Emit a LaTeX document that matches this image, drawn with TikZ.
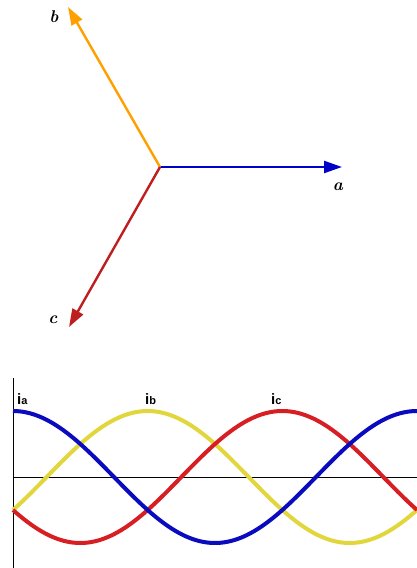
\documentclass[tikz,border=0pt]{standalone}
\usepackage{fontspec}
\setsansfont{Liberation Sans}
\usetikzlibrary{arrows.meta}
\definecolor{phA}{RGB}{0,0,200}
\definecolor{phB}{RGB}{255,160,0}
\definecolor{phC}{RGB}{190,30,30}
\definecolor{wA}{RGB}{10,10,190}
\definecolor{wB}{RGB}{225,215,60}
\definecolor{wC}{RGB}{215,30,35}
\begin{document}
\begin{tikzpicture}[x=1pt,y=-1pt,
  phasor/.style={line width=2.4pt,-{Triangle[length=18pt,width=12pt]}},
  plab/.style={font=\bfseries\itshape\fontsize{17}{17}\selectfont},
  wave/.style={line width=4pt,domain=13:417,samples=120,smooth},
  ilab/.style={font=\sffamily\bfseries\fontsize{15}{15}\selectfont, anchor=base west, inner sep=0pt}]
\useasboundingbox (0,0) rectangle (417,568);
% phasors
\coordinate (O) at (160,167);
\coordinate (A) at (342,167);
\coordinate (B) at (68,7);
\coordinate (C) at (69,327);
\draw[phasor,phA] (O) -- (A);
\draw[phasor,phB] (O) -- (B);
\draw[phasor,phC] (O) -- (C);
\node[plab] (la) at (338,187) {a};
\node[plab] (lb) at (54,17) {b};
\node[plab] (lc) at (53,320) {c};
% waveforms
\coordinate (Y0) at (13,378);
\coordinate (Y1) at (13,568);
\coordinate (X0) at (13,477);
\coordinate (X1) at (417,477);
\draw[line width=1pt] (Y0) -- (Y1);
\draw[line width=1pt] (X0) -- (X1);
\draw[wave,wB] plot (\x,{477-66*cos(0.891089*(\x-13)-120)});
\draw[wave,wC] plot (\x,{477-66*cos(0.891089*(\x-13)-240)});
\draw[wave,wA] plot (\x,{477-66*cos(0.891089*(\x-13))});
\node[ilab] (ia) at (17,404) {i\fontsize{11}{11}\selectfont a};
\node[ilab] (ib) at (145,404) {i\fontsize{11}{11}\selectfont b};
\node[ilab] (ic) at (271,404) {i\fontsize{11}{11}\selectfont c};
\end{tikzpicture}
\end{document}
